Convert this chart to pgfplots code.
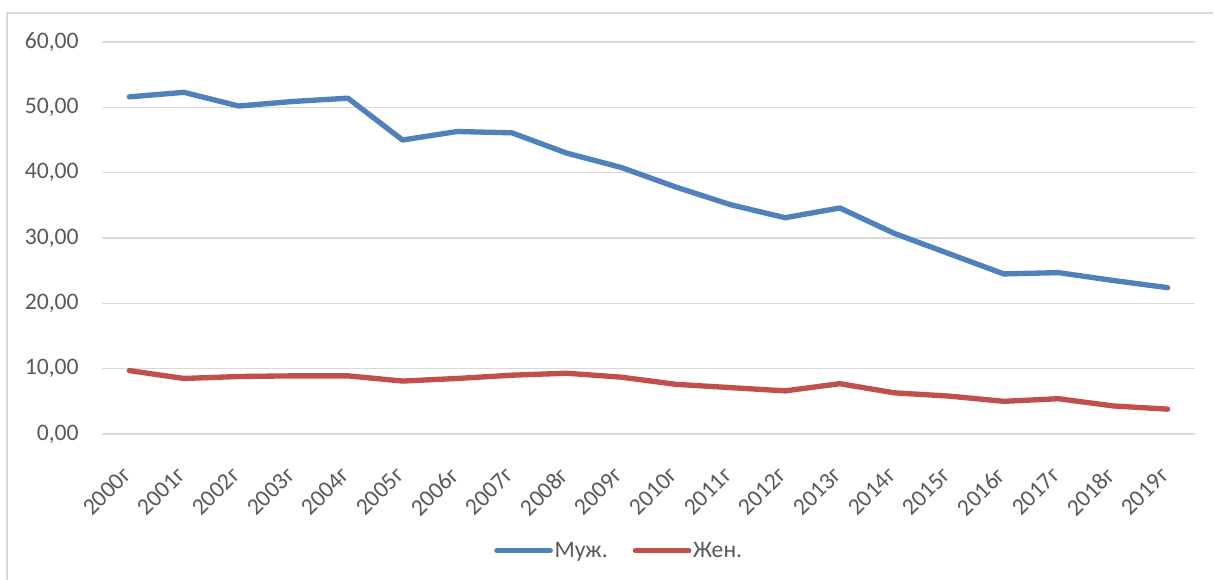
\documentclass[border=0pt]{standalone}
\usepackage{pgfplots}
\pgfplotsset{compat=1.18}
\usepackage{fontspec}
\setmainfont{Carlito}
\definecolor{mblue}{HTML}{4F81BD}
\definecolor{mred}{HTML}{C0504D}
\definecolor{gridc}{HTML}{D9D9D9}
\definecolor{txt}{HTML}{595959}
\begin{document}
\begin{tikzpicture}[x=0.6pt,y=0.6pt]
\useasboundingbox (0,0) rectangle (1214,580);
\draw[gridc, line width=1pt] (7,0) -- (7,567) -- (1213,567);
\begin{axis}[
  at={(61.2pt,87.6pt)}, anchor=south west,
  scale only axis, width=655.8pt, height=235.2pt,
  xmin=-0.5, xmax=19.5, ymin=0, ymax=60,
  ytick={0,10,...,60},
  xtick={0,...,19},
  xticklabels={2000г,2001г,2002г,2003г,2004г,2005г,2006г,2007г,2008г,2009г,2010г,2011г,2012г,2013г,2014г,2015г,2016г,2017г,2018г,2019г},
  ymajorgrids, grid style={gridc, line width=0.9pt},
  axis line style={draw=none},
  major tick length=0pt,
  /pgf/number format/.cd, fixed, fixed zerofill, precision=2, use comma, assume math mode=true,
  /pgfplots/.cd,
  tick label style={font=\fontsize{14.2}{16}\selectfont, color=txt},
  yticklabel style={inner sep=0pt, xshift=-13.8pt},
  xticklabel style={anchor=north east, inner sep=0pt, xshift=-5pt, yshift=-19pt, rotate=45},
  legend style={at={(0.473,-0.298)}, anchor=center, draw=none, legend columns=2,
    font=\fontsize{14.2}{16}\selectfont, text=txt,
    nodes={inner sep=1pt},
    /tikz/every even column/.append style={column sep=14pt}},
  legend image code/.code={\draw[#1] (0pt,0pt) -- (32pt,0pt);},
]
\addplot[mblue, line width=3.2pt, line cap=round, line join=round] coordinates {
(0,51.6) (1,52.3) (2,50.2) (3,50.9) (4,51.4) (5,45.0) (6,46.3) (7,46.1) (8,43.0) (9,40.8)
(10,37.8) (11,35.1) (12,33.1) (13,34.6) (14,30.7) (15,27.6) (16,24.5) (17,24.7) (18,23.5) (19,22.4)};
\addlegendentry{Муж.}
\addplot[mred, line width=3.2pt, line cap=round, line join=round] coordinates {
(0,9.7) (1,8.5) (2,8.8) (3,8.9) (4,8.9) (5,8.1) (6,8.5) (7,9.0) (8,9.3) (9,8.7)
(10,7.6) (11,7.1) (12,6.6) (13,7.7) (14,6.3) (15,5.8) (16,5.0) (17,5.4) (18,4.3) (19,3.8)};
\addlegendentry{Жен.}
\end{axis}
\end{tikzpicture}
\end{document}
